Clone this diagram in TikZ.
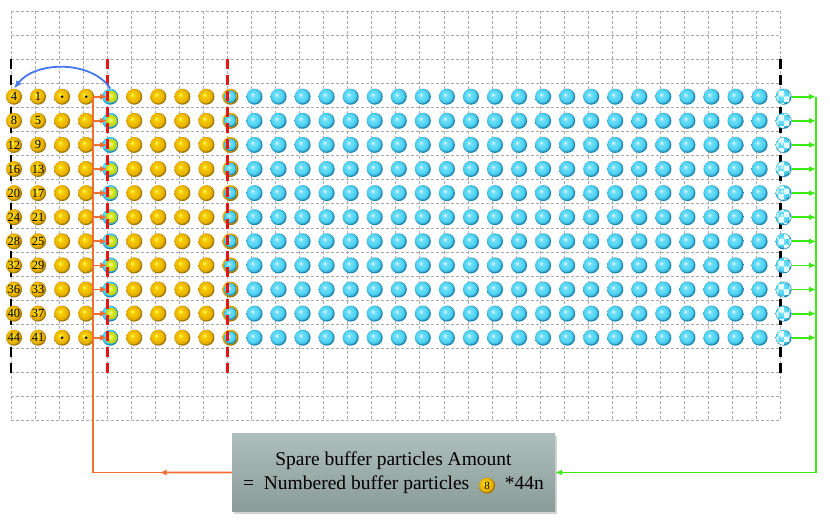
\documentclass[tikz,border=0pt]{standalone}
\usepackage{fontspec}
\setmainfont{Liberation Serif}
\usetikzlibrary{arrows.meta,shadows,patterns,calc}
\definecolor{gold}{RGB}{240,185,0}
\definecolor{goldrim}{RGB}{150,110,0}
\definecolor{cyanb}{RGB}{85,215,245}
\definecolor{cyanrim}{RGB}{20,125,170}
\definecolor{ylw}{RGB}{215,238,30}
\definecolor{orng}{RGB}{242,110,50}
\definecolor{grn}{RGB}{60,235,20}
\definecolor{blu}{RGB}{70,120,240}
\definecolor{gridc}{RGB}{170,170,170}
\definecolor{boxtop}{RGB}{174,190,188}
\definecolor{boxbot}{RGB}{138,155,152}
\definecolor{bndred}{RGB}{235,20,20}
\pgfdeclareradialshading{goldsh}{\pgfqpoint{-7bp}{7bp}}{color(0bp)=(yellow!60!white); color(7bp)=(gold!70!yellow); color(16bp)=(gold); color(22bp)=(gold!80!goldrim); color(25bp)=(goldrim); color(50bp)=(goldrim)}
\pgfdeclareradialshading{cyansh}{\pgfqpoint{-7bp}{7bp}}{color(0bp)=(white!85!cyanb); color(7bp)=(cyanb!85!white); color(16bp)=(cyanb); color(22bp)=(cyanb!70!cyanrim); color(25bp)=(cyanrim); color(50bp)=(cyanrim)}
\pgfdeclareradialshading{ylwsh}{\pgfqpoint{-6bp}{6bp}}{color(0bp)=(white!70!ylw); color(10bp)=(ylw); color(25bp)=(ylw!85!black); color(50bp)=(ylw!85!black)}
\tikzset{
  gridline/.style={draw=gridc, dash pattern=on 3pt off 2pt, line width=0.8pt},
  ball/.style={circle, inner sep=0pt, minimum size=16pt, font=\fontsize{12.5}{12.5}\selectfont},
  goldball/.style={ball, shade, shading=goldsh},
  cyanball/.style={ball, shade, shading=cyansh},
  bndline/.style={line width=2.8pt, dash pattern=on 10pt off 6pt},
  oline/.style={draw=orng, line width=1.8pt},
  gline/.style={draw=grn, line width=1.8pt},
  tipo/.style={-{Latex[length=7pt,width=6pt]}},
  infobox/.style={top color=boxtop, bottom color=boxbot, minimum width=323pt, minimum height=78pt,
    drop shadow={opacity=0.35, shadow xshift=1.5pt, shadow yshift=-2pt}, align=center,
    font=\fontsize{19.5}{23}\selectfont, inner sep=0pt}
}
\newcommand\ballicon{\tikz[baseline=(bi.base)]\node[circle, inner sep=0pt, minimum size=16pt, shade, shading=goldsh, font=\fontsize{11}{11}\selectfont] (bi) {8};}
\begin{document}
\begin{tikzpicture}[x=1pt,y=-1pt]
\fill[white] (0,0) rectangle (830,523);
\useasboundingbox (0,0) rectangle (830,523);
% grid
\foreach \i in {0,...,32} \draw[gridline] ({11+24.05*\i},11) -- ({11+24.05*\i},420.7);
\foreach \j in {0,...,17} \draw[gridline] (11,{11+24.1*\j}) -- (780.6,{11+24.1*\j});
% black boundaries
\draw[bndline, black] (11,59.2) -- (11,374);
\draw[bndline, black] (780.6,59.2) -- (780.6,374);
% particles
\foreach \r in {0,...,10}{
  \pgfmathsetmacro\yy{96.7+24.1*\r}
  \foreach \c in {0,...,32}{
    \pgfmathsetmacro\xx{14+24.05*\c}
    \ifnum\c=4
      \node[cyanball] (p\r c\c) at (\xx,\yy) {};
      \shade[shading=ylwsh] (\xx+1.3,\yy) circle (5.8pt);
    \else\ifnum\c=9
      \node[goldball] (p\r c\c) at (\xx,\yy) {};
      \shade[shading=cyansh] (\xx,\yy) circle (6.3pt);
    \else\ifnum\c=32
      \node[cyanball] (p\r c\c) at (\xx,\yy) {};
      \fill[pattern=checkerboard, pattern color=white!90!cyan] (\xx,\yy) circle (7.3pt);
    \else\ifnum\c>9
      \node[cyanball] (p\r c\c) at (\xx,\yy) {};
    \else
      \node[goldball] (p\r c\c) at (\xx,\yy) {};
    \fi\fi\fi\fi
  }
  \pgfmathtruncatemacro\na{4*\r+4}
  \pgfmathtruncatemacro\nb{4*\r+1}
  \node[font=\fontsize{12.5}{12.5}\selectfont, inner sep=0pt] (na\r) at (p\r c0) {\na};
  \node[font=\fontsize{12.5}{12.5}\selectfont, inner sep=0pt] (nb\r) at (p\r c1) {\nb};
}
% dots
\foreach \r in {0,10}{
  \fill[black] (p\r c2) circle (1.4pt);
  \fill[black] (p\r c3) circle (1.4pt);
}
% red boundaries
\draw[bndline, bndred] (107.2,59.2) -- (107.2,374);
\draw[bndline, bndred] (227.45,59.2) -- (227.45,374);
% box
\node[infobox] (box) at (393.5,472.5) {Spare buffer particles Amount\\[1pt]=\ \ Numbered buffer particles\ \ \ballicon\ \ *44n};
% orange connectors
\coordinate (ot) at (93,96.7);
\coordinate (ob) at (93,472.5);
\draw[oline] (box.west) -- (ob) -- (ot);
\draw[oline, tipo] (box.west) -- ($(box.west)!0.52!(ob)$);
\foreach \r in {0,...,10}
  \draw[oline, tipo] (ot |- p\r c4) -- ($(p\r c4.center)+(-3,0)$);
% green connectors
\coordinate (gt) at (816,96.7);
\coordinate (gb) at (816,472.5);
\draw[gline] (gt) -- (gb);
\draw[gline, tipo] (gb) -- (box.east);
\foreach \r in {0,...,10}
  \draw[gline, tipo] (p\r c32.east) -- (gt |- p\r c32);
% blue arc
\draw[blu, line width=1.8pt, -{Latex[length=8pt,width=6.5pt]}] (p0c4.north) .. controls +(-18,-28) and +(22,-28) .. (p0c0.north);
\end{tikzpicture}
\end{document}
